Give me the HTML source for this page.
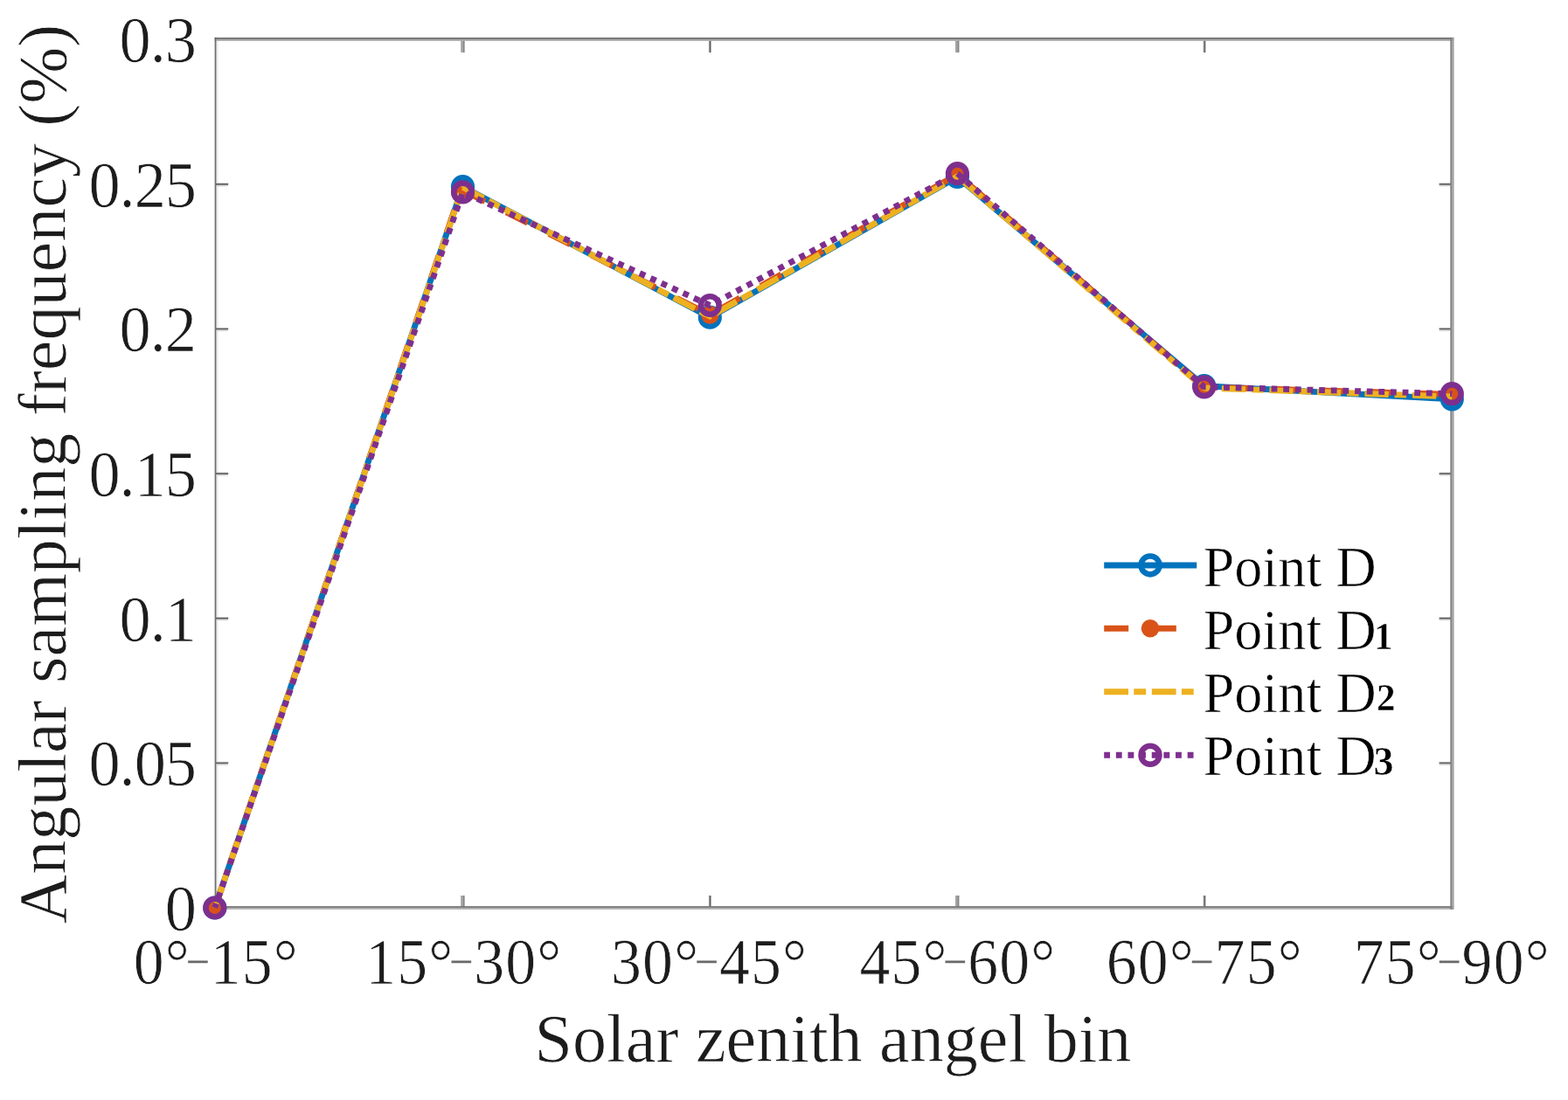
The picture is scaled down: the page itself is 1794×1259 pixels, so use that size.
<!DOCTYPE html>
<html lang="en"><head><meta charset="utf-8"><title>Angular sampling frequency</title>
<style>html,body{margin:0;padding:0;background:#fff}svg{display:block}text{font-family:"Liberation Serif", serif;stroke:#fff;stroke-width:0.7px}</style></head><body>
<svg width="1794" height="1259" viewBox="0 0 1794 1259">
<rect width="1794" height="1259" fill="#fff"/>
<g stroke="none">
<rect x="247.20" y="46.90" width="1.00" height="990.20" fill="#c4c4c4"/>
<rect x="248.20" y="46.90" width="1.60" height="990.20" fill="#efefef"/>
<rect x="527.20" y="1025.00" width="2.20" height="13.00" fill="#a2a2a2"/>
<rect x="529.40" y="1025.00" width="2.20" height="13.00" fill="#848484"/>
<rect x="527.20" y="45.50" width="2.20" height="14.60" fill="#a2a2a2"/>
<rect x="529.40" y="45.50" width="2.20" height="14.60" fill="#848484"/>
<rect x="810.80" y="1025.00" width="3.20" height="13.00" fill="#b6b6b6"/>
<rect x="811.75" y="1025.00" width="1.30" height="13.00" fill="#5a5a5a"/>
<rect x="810.80" y="45.50" width="3.20" height="14.60" fill="#b6b6b6"/>
<rect x="811.75" y="45.50" width="1.30" height="14.60" fill="#5a5a5a"/>
<rect x="1093.05" y="1025.00" width="2.20" height="13.00" fill="#a2a2a2"/>
<rect x="1095.25" y="1025.00" width="2.20" height="13.00" fill="#848484"/>
<rect x="1093.05" y="45.50" width="2.20" height="14.60" fill="#a2a2a2"/>
<rect x="1095.25" y="45.50" width="2.20" height="14.60" fill="#848484"/>
<rect x="1376.55" y="1025.00" width="3.20" height="13.00" fill="#b6b6b6"/>
<rect x="1377.50" y="1025.00" width="1.30" height="13.00" fill="#5a5a5a"/>
<rect x="1376.55" y="45.50" width="3.20" height="14.60" fill="#b6b6b6"/>
<rect x="1377.50" y="45.50" width="1.30" height="14.60" fill="#5a5a5a"/>
<rect x="247.00" y="871.83" width="14.20" height="0.70" fill="#bcbcbc"/>
<rect x="247.00" y="874.23" width="13.70" height="1.70" fill="#d8d8d8"/>
<rect x="247.00" y="872.53" width="14.20" height="1.70" fill="#5e5e5e"/>
<rect x="1646.60" y="871.83" width="13.40" height="0.70" fill="#bcbcbc"/>
<rect x="1646.60" y="874.23" width="12.90" height="1.70" fill="#d8d8d8"/>
<rect x="1646.60" y="872.53" width="13.40" height="1.70" fill="#5e5e5e"/>
<rect x="247.00" y="706.22" width="14.20" height="0.70" fill="#bcbcbc"/>
<rect x="247.00" y="708.62" width="13.70" height="1.70" fill="#d8d8d8"/>
<rect x="247.00" y="706.92" width="14.20" height="1.70" fill="#5e5e5e"/>
<rect x="1646.60" y="706.22" width="13.40" height="0.70" fill="#bcbcbc"/>
<rect x="1646.60" y="708.62" width="12.90" height="1.70" fill="#d8d8d8"/>
<rect x="1646.60" y="706.92" width="13.40" height="1.70" fill="#5e5e5e"/>
<rect x="247.00" y="540.60" width="14.20" height="0.70" fill="#bcbcbc"/>
<rect x="247.00" y="543.00" width="13.70" height="1.70" fill="#d8d8d8"/>
<rect x="247.00" y="541.30" width="14.20" height="1.70" fill="#5e5e5e"/>
<rect x="1646.60" y="540.60" width="13.40" height="0.70" fill="#bcbcbc"/>
<rect x="1646.60" y="543.00" width="12.90" height="1.70" fill="#d8d8d8"/>
<rect x="1646.60" y="541.30" width="13.40" height="1.70" fill="#5e5e5e"/>
<rect x="247.00" y="374.98" width="14.20" height="0.70" fill="#bcbcbc"/>
<rect x="247.00" y="377.38" width="13.70" height="1.70" fill="#d8d8d8"/>
<rect x="247.00" y="375.68" width="14.20" height="1.70" fill="#5e5e5e"/>
<rect x="1646.60" y="374.98" width="13.40" height="0.70" fill="#bcbcbc"/>
<rect x="1646.60" y="377.38" width="12.90" height="1.70" fill="#d8d8d8"/>
<rect x="1646.60" y="375.68" width="13.40" height="1.70" fill="#5e5e5e"/>
<rect x="247.00" y="209.37" width="14.20" height="0.70" fill="#bcbcbc"/>
<rect x="247.00" y="211.77" width="13.70" height="1.70" fill="#d8d8d8"/>
<rect x="247.00" y="210.07" width="14.20" height="1.70" fill="#5e5e5e"/>
<rect x="1646.60" y="209.37" width="13.40" height="0.70" fill="#bcbcbc"/>
<rect x="1646.60" y="211.77" width="12.90" height="1.70" fill="#d8d8d8"/>
<rect x="1646.60" y="210.07" width="13.40" height="1.70" fill="#5e5e5e"/>
<rect x="245.30" y="42.90" width="1417.90" height="2.15" fill="#787878"/>
<rect x="245.30" y="45.05" width="1417.90" height="1.85" fill="#ababab"/>
<rect x="245.30" y="1037.10" width="1417.90" height="2.00" fill="#7c7c7c"/>
<rect x="245.30" y="1039.10" width="1417.90" height="1.80" fill="#adadad"/>
<rect x="1659.30" y="42.90" width="2.20" height="998.00" fill="#808080"/>
<rect x="1661.50" y="42.90" width="2.00" height="998.00" fill="#9e9e9e"/>
<rect x="245.30" y="42.90" width="0.80" height="998.00" fill="#b4b4b4"/>
<rect x="246.10" y="42.90" width="1.10" height="998.00" fill="#606060"/>
</g>
<g fill="none" stroke-width="6.9" stroke-linejoin="round">
<polyline points="245.8,1039.0 529.5,213.7 812.3,363.2 1095.4,202.5 1377.7,441.7 1661.3,456.8" stroke="#0072BD"/>
<g stroke="#0072BD" stroke-width="6.6"><circle cx="245.8" cy="1039.0" r="10.3"/><circle cx="529.5" cy="213.7" r="10.3"/><circle cx="812.3" cy="363.2" r="10.3"/><circle cx="1095.4" cy="202.5" r="10.3"/><circle cx="1377.7" cy="441.7" r="10.3"/><circle cx="1661.3" cy="456.8" r="10.3"/></g>
<polyline points="245.8,1039.0 528.0,217.0 812.3,360.4 1095.4,199.6 1377.7,443.0 1661.3,451.4" stroke="#D95319" stroke-dasharray="27.3 27.3" stroke-dashoffset="1.7"/>
<g fill="#D95319" stroke="none"><circle cx="245.8" cy="1039.0" r="10.3"/><circle cx="528.0" cy="217.0" r="10.3"/><circle cx="812.3" cy="360.4" r="10.3"/><circle cx="1095.4" cy="199.6" r="10.3"/><circle cx="1377.7" cy="443.0" r="10.3"/><circle cx="1661.3" cy="451.4" r="10.3"/></g>
<polyline points="245.8,1039.0 529.5,214.3 812.3,362.3 1095.4,202.0 1377.7,444.0 1661.3,454.0" stroke="#EDB120" stroke-dasharray="27.3 6.82 13.64 6.82" stroke-dashoffset="1.7"/>
<polyline points="245.8,1039.0 529.5,219.9 812.3,349.5 1095.4,198.7 1377.7,442.8 1661.3,450.7" stroke="#7E2F8E" stroke-dasharray="6.82 6.82" stroke-dashoffset="1.7"/>
<g stroke="#7E2F8E" stroke-width="6.6"><circle cx="245.8" cy="1039.0" r="10.3"/><circle cx="529.5" cy="219.9" r="10.3"/><circle cx="812.3" cy="349.5" r="10.3"/><circle cx="1095.4" cy="198.7" r="10.3"/><circle cx="1377.7" cy="442.8" r="10.3"/><circle cx="1661.3" cy="450.7" r="10.3"/></g>
</g>
<g font-size="74.0" text-anchor="end" letter-spacing="-1" fill="#1c1c1c">
<text transform="translate(224.0,1064.9) scale(0.977,1)">0</text>
<text transform="translate(224.0,899.3) scale(0.977,1)">0.05</text>
<text transform="translate(224.0,733.7) scale(0.977,1)">0.1</text>
<text transform="translate(224.0,568.0) scale(0.977,1)">0.15</text>
<text transform="translate(224.0,402.4) scale(0.977,1)">0.2</text>
<text transform="translate(224.0,236.8) scale(0.977,1)">0.25</text>
<text transform="translate(224.0,71.2) scale(0.977,1)">0.3</text>
</g>
<g font-size="73.9" letter-spacing="1.2" fill="#1c1c1c" text-anchor="middle">
<text transform="translate(247.3,1126.4) scale(0.944,1)">0°<tspan font-size="46" dx="-2.6" dy="-14.5" fill="#6a6a6a" stroke="#6a6a6a" stroke-width="0.3">–</tspan><tspan dx="2.6" dy="14.5">15°</tspan></text>
<text transform="translate(530.8,1126.4) scale(0.944,1)">15°<tspan font-size="46" dx="-2.6" dy="-14.5" fill="#6a6a6a" stroke="#6a6a6a" stroke-width="0.3">–</tspan><tspan dx="2.6" dy="14.5">30°</tspan></text>
<text transform="translate(811.6,1126.4) scale(0.944,1)">30°<tspan font-size="46" dx="-2.6" dy="-14.5" fill="#6a6a6a" stroke="#6a6a6a" stroke-width="0.3">–</tspan><tspan dx="2.6" dy="14.5">45°</tspan></text>
<text transform="translate(1095.9,1126.4) scale(0.944,1)">45°<tspan font-size="46" dx="-2.6" dy="-14.5" fill="#6a6a6a" stroke="#6a6a6a" stroke-width="0.3">–</tspan><tspan dx="2.6" dy="14.5">60°</tspan></text>
<text transform="translate(1378.2,1126.4) scale(0.944,1)">60°<tspan font-size="46" dx="-2.6" dy="-14.5" fill="#6a6a6a" stroke="#6a6a6a" stroke-width="0.3">–</tspan><tspan dx="2.6" dy="14.5">75°</tspan></text>
<text transform="translate(1661.2,1126.4) scale(0.944,1)">75°<tspan font-size="46" dx="-2.6" dy="-14.5" fill="#6a6a6a" stroke="#6a6a6a" stroke-width="0.3">–</tspan><tspan dx="2.6" dy="14.5">90°</tspan></text>
</g>
<text transform="translate(953.0,1215.0) scale(1.001,1)" font-size="78.0" fill="#1c1c1c" text-anchor="middle">Solar zenith angel bin</text>
<text transform="translate(75.2,542.4) rotate(-90) scale(1.001,1)" font-size="78.0" fill="#1c1c1c" text-anchor="middle">Angular sampling frequency (%)</text>
<g fill="none" stroke-width="7.0">
<path d="M1263.2,646.9H1369.2" stroke="#0072BD"/><circle cx="1316.0" cy="646.9" r="10.5" stroke="#0072BD" stroke-width="6.5"/>
<path d="M1263.2,719.3H1369.2" stroke="#D95319" stroke-dasharray="28 26.6"/><circle cx="1316.0" cy="719.3" r="10.3" fill="#D95319" stroke="none"/>
<path d="M1263.2,791.7H1369.2" stroke="#EDB120" stroke-dasharray="27.8 6.3 13.8 6.7"/>
<path d="M1263.2,864.3H1369.2" stroke="#7E2F8E" stroke-dasharray="6.82 6.82"/><circle cx="1316.0" cy="864.3" r="10.5" stroke="#7E2F8E" stroke-width="6.5"/>
</g>
<g font-size="66.2" fill="#000">
<text transform="translate(1376.4,670.7) scale(0.972,1)">Point D</text>
<text transform="translate(1376.4,743.0) scale(0.972,1)">Point D<tspan font-size="44.5" font-weight="bold" stroke-width="0.5" dx="-3.0" dy="0.2">1</tspan></text>
<text transform="translate(1376.4,815.1) scale(0.972,1)">Point D<tspan font-size="44.5" font-weight="bold" stroke-width="0.5" dx="0.3" dy="-1.8">2</tspan></text>
<text transform="translate(1376.4,887.2) scale(0.972,1)">Point D<tspan font-size="47.5" font-weight="bold" stroke-width="0.5" dx="-3.4" dy="-0.3">3</tspan></text>
</g>
</svg></body></html>
